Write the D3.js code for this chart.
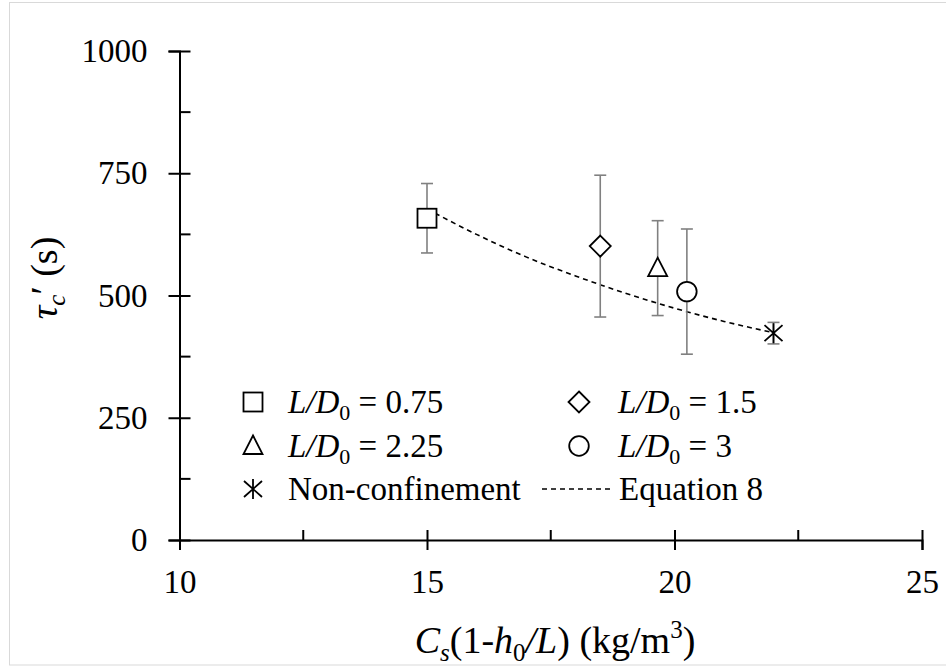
<!DOCTYPE html>
<html>
<head>
<meta charset="utf-8">
<script src="https://cdn.jsdelivr.net/npm/d3@7/dist/d3.min.js"></script>
<style>
  html, body { margin: 0; padding: 0; background: #ffffff; }
  svg { display: block; }
  svg text { font-family: "Liberation Serif", Tinos, "DejaVu Serif", "Times New Roman", Times, serif !important; fill: #000; }
</style>
</head>
<body>
<svg id="chart" width="946" height="670"></svg>
<script>
// ---- data ----
const seriesNames = ["0.75", "1.5", "2.25", "3", "Non-confinement"];
const seriesSymbols = ["square", "diamond", "triangle", "circle", "asterisk"];
const xValues = [15.0, 18.5, 19.66, 20.25, 22.0];
const yValues = [658, 601, 556, 508, 423];
const errValues = [71, 145, 97, 128, 22];

const eqX = [15, 16, 17, 18, 19, 20, 21, 22];
const eqY = [677, 625, 579, 540, 505, 474, 447, 424];

const xMajorTicks = [10, 15, 20, 25];
const xMinorTicks = [12.5, 17.5, 22.5];
const yMajorTicks = [0, 250, 500, 750, 1000];
const yMinorTicks = [125, 375, 625, 875];

// ---- layout ----
const FONT = '"Liberation Serif", Tinos, "DejaVu Serif", "Times New Roman", Times, serif';
const svg = d3.select("#chart");
svg.append("rect").attr("x", 0).attr("y", 0).attr("width", 946).attr("height", 670).attr("fill", "#fff");
svg.append("rect").attr("x", 9.5).attr("y", 2.5).attr("width", 960).attr("height", 662.5)
  .attr("fill", "none").attr("stroke", "#d9d9d9").attr("stroke-width", 1);

const x = d3.scaleLinear().domain([10, 25]).range([179.5, 922]);
const y = d3.scaleLinear().domain([0, 1000]).range([540, 51]);

const axisColor = "#000";
const tickFont = 33;

// X axis
const gx = svg.append("g").attr("transform", `translate(0,${y(0)})`)
  .call(d3.axisBottom(x).tickValues(xMajorTicks).tickSize(10).tickPadding(20).tickFormat(d3.format("d")));
gx.attr("font-family", FONT);
gx.select(".domain").attr("stroke", axisColor).attr("stroke-width", 2);
gx.selectAll(".tick line").attr("stroke", axisColor).attr("stroke-width", 2).attr("y1", -10);
gx.selectAll(".tick text").attr("font-size", tickFont).style("font-family", FONT);
gx.selectAll(".minor").data(xMinorTicks).enter().append("line")
  .attr("x1", d => x(d)).attr("x2", d => x(d)).attr("y1", 0).attr("y2", -10)
  .attr("stroke", axisColor).attr("stroke-width", 2);

// Y axis
const gy = svg.append("g").attr("transform", `translate(${x(10)},0)`)
  .call(d3.axisLeft(y).tickValues(yMajorTicks).tickSize(11).tickPadding(21).tickFormat(d3.format("d")));
gy.attr("font-family", FONT);
gy.select(".domain").attr("stroke", axisColor).attr("stroke-width", 2);
gy.selectAll(".tick line").attr("stroke", axisColor).attr("stroke-width", 2).attr("x1", 11);
gy.selectAll(".tick text").attr("font-size", tickFont).style("font-family", FONT);
gy.selectAll(".minor").data(yMinorTicks).enter().append("line")
  .attr("x1", 0).attr("x2", 11).attr("y1", d => y(d)).attr("y2", d => y(d))
  .attr("stroke", axisColor).attr("stroke-width", 2);

// Axis titles
const xt = svg.append("text").attr("x", 555).attr("y", 653).attr("text-anchor", "middle")
  .attr("font-size", 38).style("font-family", FONT);
xt.append("tspan").attr("font-style", "italic").text("C");
xt.append("tspan").attr("font-style", "italic").attr("font-size", 25).attr("dy", 8).text("s");
xt.append("tspan").attr("dy", -8).text("(1-");
xt.append("tspan").attr("font-style", "italic").text("h");
xt.append("tspan").attr("font-size", 25).attr("dy", 8).text("0");
xt.append("tspan").attr("dy", -8).attr("font-style", "italic").text("/L");
xt.append("tspan").text(") (kg/m");
xt.append("tspan").attr("font-size", 25).attr("dy", -15).text("3");
xt.append("tspan").attr("dy", 15).text(")");

const yt = svg.append("text").attr("transform", "translate(57,278) rotate(-90)")
  .attr("text-anchor", "middle").attr("font-size", 38).style("font-family", FONT);
yt.append("tspan").attr("font-style", "italic").text("τ");
yt.append("tspan").attr("font-style", "italic").attr("font-size", 25).attr("dy", 8).text("c");
yt.append("tspan").attr("dy", -8).text("′ (s)");

// Equation 8 dashed line
const eqData = eqX.map((d, i) => [d, eqY[i]]);
svg.append("path").datum(eqData)
  .attr("d", d3.line().x(d => x(d[0])).y(d => y(d[1])).curve(d3.curveMonotoneX))
  .attr("fill", "none").attr("stroke", "#000").attr("stroke-width", 1.6)
  .attr("stroke-dasharray", "5,4");

// Error bars
const errColor = "#808080";
const capW = 6;
const pts = xValues.map((d, i) => ({ x: d, y: yValues[i], e: errValues[i], sym: seriesSymbols[i] }));
const eb = svg.append("g");
pts.forEach(p => {
  const cx = x(p.x);
  eb.append("line").attr("x1", cx).attr("x2", cx).attr("y1", y(p.y + p.e)).attr("y2", y(p.y - p.e))
    .attr("stroke", errColor).attr("stroke-width", 1.6);
  [p.y + p.e, p.y - p.e].forEach(v => {
    eb.append("line").attr("x1", cx - capW).attr("x2", cx + capW).attr("y1", y(v)).attr("y2", y(v))
      .attr("stroke", errColor).attr("stroke-width", 1.6);
  });
});

// Marker drawing
function drawMarker(g, sym, cx, cy) {
  const s = 9.5;
  let el;
  if (sym === "square") {
    el = g.append("rect").attr("x", cx - s).attr("y", cy - s).attr("width", 2 * s).attr("height", 2 * s).attr("fill", "#fff");
  } else if (sym === "diamond") {
    el = g.append("path").attr("d", `M${cx},${cy - 10.5}L${cx + 10.5},${cy}L${cx},${cy + 10.5}L${cx - 10.5},${cy}Z`).attr("fill", "#fff");
  } else if (sym === "triangle") {
    el = g.append("path").attr("d", `M${cx},${cy - 10.5}L${cx + 9.5},${cy + 8}L${cx - 9.5},${cy + 8}Z`).attr("fill", "#fff");
  } else if (sym === "circle") {
    el = g.append("circle").attr("cx", cx).attr("cy", cy).attr("r", 9.8).attr("fill", "#fff");
  } else if (sym === "asterisk") {
    el = g.append("path").attr("d",
      `M${cx},${cy - 10}L${cx},${cy + 10}M${cx - 9},${cy - 8}L${cx + 9},${cy + 8}M${cx + 9},${cy - 8}L${cx - 9},${cy + 8}`)
      .attr("fill", "none");
  }
  el.attr("stroke", "#000").attr("stroke-width", 1.8);
}

const mk = svg.append("g");
pts.forEach(p => drawMarker(mk, p.sym, x(p.x), y(p.y)));

// Legend
const legFont = 33;
const legendItems = [
  { sym: "square", name: seriesNames[0], mx: 253, tx: 288, ty: 402 },
  { sym: "diamond", name: seriesNames[1], mx: 579, tx: 618, ty: 402 },
  { sym: "triangle", name: seriesNames[2], mx: 253, tx: 288, ty: 446 },
  { sym: "circle", name: seriesNames[3], mx: 579, tx: 618, ty: 446 },
  { sym: "asterisk", name: seriesNames[4], mx: 253, tx: 288, ty: 489 }
];
const lg = svg.append("g");
legendItems.forEach(it => {
  drawMarker(lg, it.sym, it.mx, it.ty);
  const t = lg.append("text").attr("x", it.tx).attr("y", it.ty + 11).attr("font-size", legFont).style("font-family", FONT);
  if (it.sym === "asterisk") {
    t.text(it.name);
  } else {
    t.append("tspan").attr("font-style", "italic").text("L/D");
    t.append("tspan").attr("font-size", 22).attr("dy", 7).text("0");
    t.append("tspan").attr("dy", -7).text(" = " + it.name);
  }
});
lg.append("line").attr("x1", 542).attr("x2", 611).attr("y1", 489).attr("y2", 489)
  .attr("stroke", "#000").attr("stroke-width", 1.6).attr("stroke-dasharray", "5,4");
lg.append("text").attr("x", 619).attr("y", 500).attr("font-size", legFont).style("font-family", FONT).text("Equation 8");
</script>
</body>
</html>
